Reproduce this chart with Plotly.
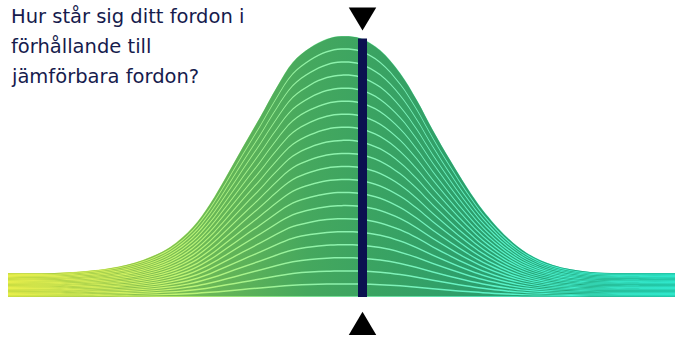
import plotly.graph_objects as go

# ---- data ----
score = [0, 7.8, 15.3, 20.2, 24.3, 27.7, 30.3, 32.8, 35.2, 37.8, 40.3, 42.7, 45.3, 47.8, 50.0,
         52.8, 55.8, 58.8, 61.3, 63.7, 66.3, 68.8, 71.2, 74.8, 77.8, 81.7, 87.3, 94.8, 100]
share = [9.2, 9.3, 11.1, 14.2, 19.2, 26.8, 35.8, 46.6, 57.5, 69.0, 80.5, 90.0, 95.6, 98.9, 100,
         99.2, 94.6, 85.8, 75.5, 64.0, 52.5, 42.1, 33.3, 23.0, 16.9, 12.3, 9.6, 9.2, 9.2]
n_layers = 20
your_score = [53.15]
your_share = [99.0]
title_lines = ["Hur står sig ditt fordon i", "förhållande till", "jämförbara fordon?"]

# ---- styling ----
W, H = 675, 340
X_RANGE = [-1.2, 100]
Y_RANGE = [-16.48, 113.79]
px_per_unit_y = H / (Y_RANGE[1] - Y_RANGE[0])

dark_scale = [[0, '#bcd63c'], [0.15, '#96c64a'], [0.3, '#6ab756'], [0.45, '#45a85e'],
              [0.55, '#3aa362'], [0.7, '#2c9e6c'], [0.85, '#22a87f'], [1, '#1cbd9c']]
light_scale = [[0, '#f6f650'], [0.15, '#ddf560'], [0.3, '#b4f47c'], [0.45, '#92f2a6'],
               [0.55, '#86f2b6'], [0.7, '#62f2c6'], [0.85, '#44f2d2'], [1, '#34f4da']]

fig = go.Figure()

# light base (becomes the separating lines)
fig.add_trace(go.Scatter(x=score, y=share, mode='lines', line=dict(width=0, shape='spline'),
                         fill='tozeroy', fillgradient=dict(type='horizontal', colorscale=light_scale),
                         hoverinfo='skip', showlegend=False))

for k in range(1, n_layers + 1):
    band = [v / n_layers for v in share]
    gap = [min(1.5, 0.5 * b * px_per_unit_y) / px_per_unit_y for b in band]
    lower = [(k - 1) * b + g / 2 for b, g in zip(band, gap)]
    top_gap = 0.25 if k == n_layers else 0.5
    upper = [k * b - g * top_gap for b, g in zip(band, gap)]
    fig.add_trace(go.Scatter(x=score, y=lower, mode='lines', line=dict(width=0, shape='spline'),
                             hoverinfo='skip', showlegend=False))
    fig.add_trace(go.Scatter(x=score, y=upper, mode='lines', line=dict(width=0, shape='spline'),
                             fill='tonexty',
                             fillgradient=dict(type='horizontal', colorscale=dark_scale),
                             hoverinfo='skip', showlegend=False))

# your vehicle marker bar (shape so it sits above the filled layers)
fig.add_shape(type='rect', xref='x', yref='y', xsizemode='pixel', xanchor=your_score[0],
              x0=-4.5, x1=4.5, y0=0, y1=your_share[0], fillcolor='#0b1150', line=dict(width=0))

# triangles anchored at the bar
fig.add_shape(type='path', xref='x', yref='y', xsizemode='pixel', ysizemode='pixel',
              xanchor=your_score[0], yanchor=your_share[0],
              path='M -13.75,31.2 L 13.75,31.2 L 0,8 Z', fillcolor='black', line=dict(width=0))
fig.add_shape(type='path', xref='x', yref='y', xsizemode='pixel', ysizemode='pixel',
              xanchor=your_score[0], yanchor=0,
              path='M -13.75,-38 L 13.75,-38 L 0,-14.7 Z', fillcolor='black', line=dict(width=0))

# title text
baselines = [25, 55, 85]
for txt, b in zip(title_lines, baselines):
    fig.add_annotation(text=txt, xref='paper', yref='paper', x=9 / W, y=1 - (b + 5) / H,
                       xanchor='left', yanchor='bottom', showarrow=False,
                       font=dict(family='DejaVu Sans', size=19.5, color='#161b4d'))

fig.update_layout(width=W, height=H, margin=dict(l=0, r=0, t=0, b=0),
                  paper_bgcolor='white', plot_bgcolor='white',
                  xaxis=dict(range=X_RANGE, visible=False, fixedrange=True),
                  yaxis=dict(range=Y_RANGE, visible=False, fixedrange=True))

fig.write_html("out.html", config={'displayModeBar': False, 'responsive': False},
               post_script="document.body.style.margin='0';document.body.style.overflow='hidden';")
